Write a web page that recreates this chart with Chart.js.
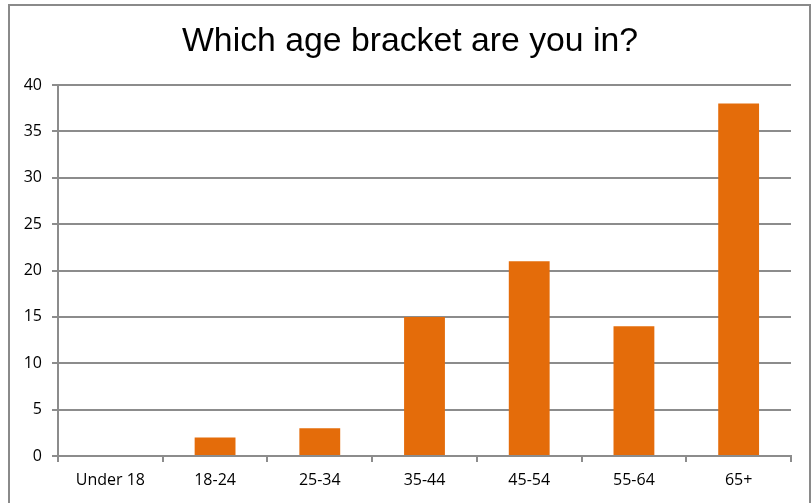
<!DOCTYPE html>
<html>
<head>
<meta charset="utf-8">
<script src="https://cdn.jsdelivr.net/npm/chart.js@4"></script>
<style>
html,body{margin:0;padding:0;background:#fff;overflow:hidden;}
#wrap{position:relative;width:812px;height:503px;}
#frame{position:absolute;left:8px;top:4px;width:803px;height:520px;border:2px solid #8a8a8a;box-sizing:border-box;pointer-events:none;}
canvas{position:absolute;left:0;top:0;}
</style>
</head>
<body>
<div id="wrap">
<canvas id="c" width="812" height="503"></canvas>
<div id="frame"></div>
</div>
<script>
const titleText = "Which age bracket are you in?";
const categories = ["Under 18", "18-24", "25-34", "35-44", "45-54", "55-64", "65+"];
const responses = [0, 2, 3, 15, 21, 14, 38];

const gridColor = "#8c8c8c";

const titlePlugin = {
  id: "centeredTitle",
  afterDraw(chart) {
    const ctx = chart.ctx;
    ctx.save();
    ctx.font = "normal 33px 'Liberation Sans', Arial, sans-serif";
    ctx.fillStyle = "#000";
    ctx.textAlign = "center";
    ctx.textBaseline = "alphabetic";
    const w = ctx.measureText(titleText).width;
    const target = 456;
    const sx = target / w;
    ctx.translate(410, 51);
    ctx.scale(sx, 1);
    ctx.fillText(titleText, 0, 0);
    ctx.restore();
  }
};

new Chart(document.getElementById("c"), {
  type: "bar",
  data: {
    labels: categories,
    datasets: [{
      data: responses,
      backgroundColor: "#E46C0A",
      borderWidth: 0,
      barPercentage: 0.39,
      categoryPercentage: 1.0
    }]
  },
  plugins: [titlePlugin],
  options: {
    responsive: false,
    animation: false,
    devicePixelRatio: 1,
    layout: { padding: { left: 0, right: 21, top: 85, bottom: 0 } },
    plugins: {
      legend: { display: false },
      tooltip: { enabled: false },
      title: { display: false }
    },
    scales: {
      x: {
        offset: true,
        grid: {
          offset: true,
          drawOnChartArea: false,
          drawTicks: true,
          tickLength: 6,
          color: gridColor,
          lineWidth: 2
        },
        border: { display: true, color: gridColor, width: 2 },
        ticks: {
          color: "#000",
          font: { family: "Open Sans, Liberation Sans, sans-serif", size: 16 },
          padding: 9,
          maxRotation: 0
        },
        afterFit: s => { s.height = 47; }
      },
      y: {
        min: 0,
        max: 40,
        ticks: {
          stepSize: 5,
          color: "#000",
          font: { family: "Open Sans, Liberation Sans, sans-serif", size: 16 },
          padding: 10
        },
        grid: {
          color: gridColor,
          lineWidth: 2,
          drawTicks: true,
          tickLength: 6
        },
        border: { display: true, color: gridColor, width: 2 },
        afterFit: s => { s.width = 58; }
      }
    }
  }
});
</script>
</body>
</html>
